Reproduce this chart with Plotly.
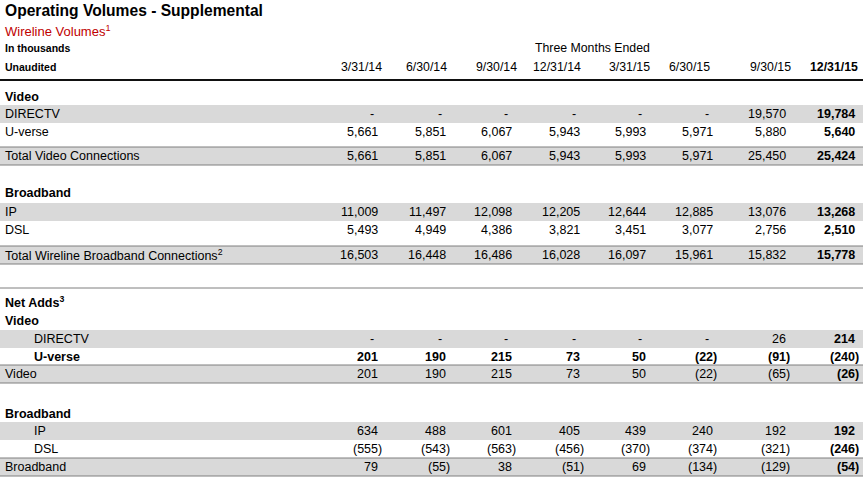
import plotly.graph_objects as go

# ---- data ----
quarters = ["3/31/14", "6/30/14", "9/30/14", "12/31/14", "3/31/15", "6/30/15", "9/30/15", "12/31/15"]

video_directv = [None, None, None, None, None, None, 19570, 19784]
video_uverse = [5661, 5851, 6067, 5943, 5993, 5971, 5880, 5640]
video_total = [5661, 5851, 6067, 5943, 5993, 5971, 25450, 25424]

bb_ip = [11009, 11497, 12098, 12205, 12644, 12885, 13076, 13268]
bb_dsl = [5493, 4949, 4386, 3821, 3451, 3077, 2756, 2510]
bb_total = [16503, 16448, 16486, 16028, 16097, 15961, 15832, 15778]

na_directv = [None, None, None, None, None, None, 26, 214]
na_uverse = [201, 190, 215, 73, 50, -22, -91, -240]
na_video = [201, 190, 215, 73, 50, -22, -65, -26]
na_ip = [634, 488, 601, 405, 439, 240, 192, 192]
na_dsl = [-555, -543, -563, -456, -370, -374, -321, -246]
na_broadband = [79, -55, 38, -51, 69, -134, -129, -54]

# ---- layout constants ----
W, H = 863, 477
FONT = "Liberation Sans, Arial, sans-serif"
BAND = "#d9d9d9"
RULE = "#7f7f7f"
num_x = [380, 448, 514, 582, 648, 715, 788, 857]
head_x = [384, 449, 519, 583, 652, 712, 793, 860]

fig = go.Figure()
annotations = []
shapes = []


def txt(x, y, s, size=12, bold=False, color="#000", anchor="left", xshift=0):
    annotations.append(dict(
        x=x, y=y, xref="x", yref="y", text=f"<b>{s}</b>" if bold else s,
        showarrow=False, xanchor=anchor, yanchor="middle", xshift=xshift,
        font=dict(family=FONT, size=size, color=color),
    ))


def fmt(v):
    if v is None:
        return "-"
    if v < 0:
        return f"({-v:,})"
    return f"{v:,}"


def hline(y, width=1, color=RULE):
    shapes.append(dict(type="line", xref="x", yref="y", x0=0, x1=W, y0=y, y1=y,
                       line=dict(color=color, width=width), layer="above"))


def band(yc):
    shapes.append(dict(type="rect", xref="x", yref="y", x0=0, x1=W, y0=yc - 9, y1=yc + 9,
                       fillcolor=BAND, line=dict(width=0), layer="below"))


def row(y, label, vals, indent=3, shade=False, bold=False, top=False, bottom=False):
    if shade:
        band(y)
    if top:
        hline(y - 9)
    if bottom:
        hline(y + 9)
    txt(indent, y, label, bold=bold, size=12.5)
    for i, v in enumerate(vals):
        neg = v is not None and v < 0
        txt(num_x[i], y, fmt(v), size=12.5, bold=bold or i == len(vals) - 1, anchor="right",
            xshift=4 if neg else (-4 if v is None else 0))


# header
txt(3, 10, "Operating Volumes - Supplemental", size=15.6, bold=True)
txt(3, 31, "Wireline Volumes<sup>1</sup>", size=13, color="#c00000")
txt(3, 48, "In thousands", size=10.5, bold=True)
txt(3, 67, "Unaudited", size=10.5, bold=True)
txt(592, 48, "Three Months Ended", size=12.3, anchor="center")
for i, q in enumerate(quarters):
    txt(head_x[i], 67, q, size=12.3, bold=(i == len(quarters) - 1), anchor="right")
hline(80, width=2, color="#111")

# wireline volumes
txt(3, 97, "Video", bold=True, size=12.5)
row(114, "DIRECTV", video_directv, shade=True)
row(132, "U-verse", video_uverse)
row(156, "Total Video Connections", video_total, shade=True, top=True, bottom=True)

txt(3, 193, "Broadband", bold=True, size=12.5)
row(212, "IP", bb_ip, shade=True)
row(230, "DSL", bb_dsl)
row(255, "Total Wireline Broadband Connections<sup>2</sup>", bb_total, shade=True, top=True, bottom=True)

hline(288)

# net adds
txt(3, 302, "Net Adds<sup>3</sup>", bold=True, size=12.5)
txt(3, 321, "Video", bold=True, size=12.5)
row(339, "DIRECTV", na_directv, indent=32, shade=True)
row(357, "U-verse", na_uverse, indent=32, bold=True)
row(374, "Video", na_video, shade=True, top=True, bottom=True)

txt(3, 414, "Broadband", bold=True, size=12.5)
row(431, "IP", na_ip, indent=32, shade=True)
row(449, "DSL", na_dsl, indent=32)
row(467, "Broadband", na_broadband, shade=True, top=True, bottom=True)

fig.update_layout(
    width=W, height=H,
    margin=dict(l=0, r=0, t=0, b=0),
    paper_bgcolor="white", plot_bgcolor="white",
    xaxis=dict(range=[0, W], visible=False, fixedrange=True),
    yaxis=dict(range=[H, 0], visible=False, fixedrange=True),
    annotations=annotations, shapes=shapes,
    showlegend=False,
)

# the page body has a default 8px margin; drop it so the figure sits at the corner
fig.write_html("out.html", config={"displayModeBar": False},
               post_script="document.body.style.margin='0';")
